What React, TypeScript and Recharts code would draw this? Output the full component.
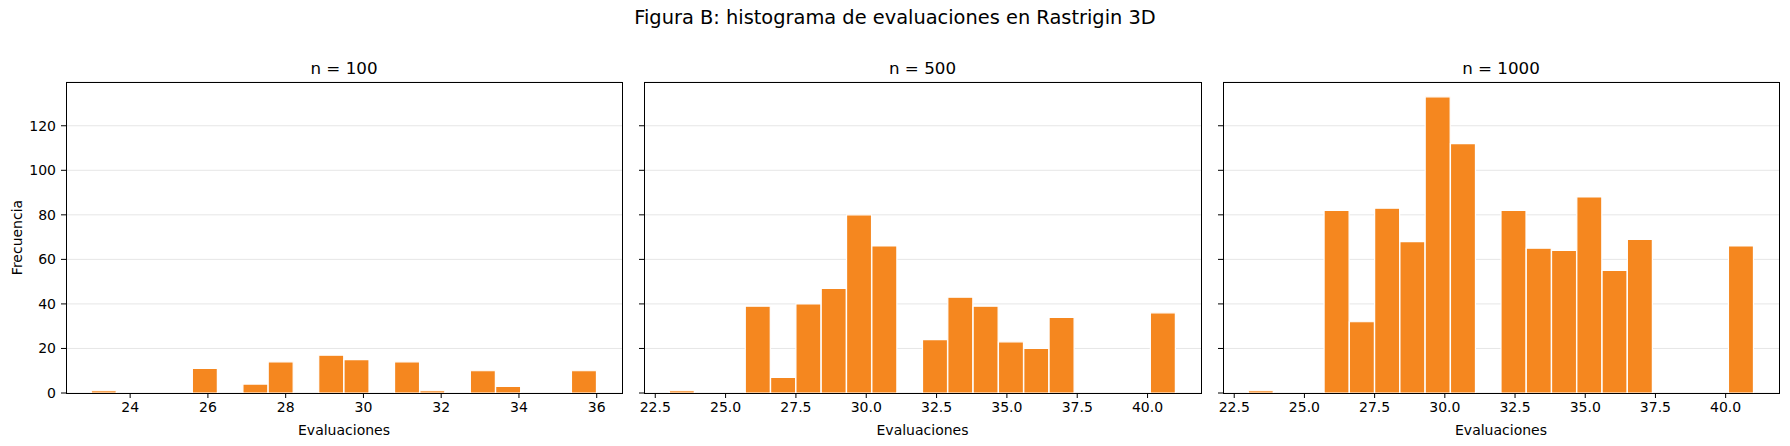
import React from 'react';
import { BarChart, Bar, XAxis, YAxis, CartesianGrid, Label } from 'recharts';

// bin edges (matplotlib hist, 20 bins) and counts per panel
const edgesN100 = [23, 23.65, 24.3, 24.95, 25.6, 26.25, 26.9, 27.55, 28.2, 28.85, 29.5, 30.15, 30.8, 31.45, 32.1, 32.75, 33.4, 34.05, 34.7, 35.35, 36];
const countsN100 = [1, 0, 0, 0, 11, 0, 4, 14, 0, 17, 15, 0, 14, 1, 0, 10, 3, 0, 0, 10];

const edgesWide = [23, 23.9, 24.8, 25.7, 26.6, 27.5, 28.4, 29.3, 30.2, 31.1, 32, 32.9, 33.8, 34.7, 35.6, 36.5, 37.4, 38.3, 39.2, 40.1, 41];
const countsN500 = [1, 0, 0, 39, 7, 40, 47, 80, 66, 0, 24, 43, 39, 23, 20, 34, 0, 0, 0, 36];
const countsN1000 = [1, 0, 0, 82, 32, 83, 68, 133, 112, 0, 82, 65, 64, 88, 55, 69, 0, 0, 0, 66];

const xTicksN100 = [24, 26, 28, 30, 32, 34, 36];
const xTicksWide = [22.5, 25, 27.5, 30, 32.5, 35, 37.5, 40];
const yTicks = [0, 20, 40, 60, 80, 100, 120];

const FONT = '"DejaVu Sans", sans-serif';
const BAR_COLOR = '#f5871f';
const PLOT_TOP = 82;
const PLOT_BOTTOM = 393;
const Y_AXIS_W = 60;
const X_AXIS_H = 20;

const buildRows = (edges: number[], counts: number[]) =>
  counts.map((c, i) => ({ center: (edges[i] + edges[i + 1]) / 2, count: c }));

interface PanelProps {
  title: string;
  left: number;
  plotWidth: number;
  edges: number[];
  counts: number[];
  xTicks: number[];
  xDomain: [number, number];
  decimals: number;
  first?: boolean;
}

const Panel: React.FC<PanelProps> = ({ title, left, plotWidth, edges, counts, xTicks, xDomain, decimals, first }) => {
  const rows = buildRows(edges, counts);
  const chartLeft = left - Y_AXIS_W;
  const tickStyle = { fill: '#000', fontSize: 14, fontFamily: FONT };
  return (
    <>
      <div
        style={{
          position: 'absolute', left, top: PLOT_TOP - 24, width: plotWidth, textAlign: 'center',
          fontFamily: FONT, fontSize: 16.7, lineHeight: '20px', color: '#000',
        }}
      >
        {title}
      </div>
      <div style={{ position: 'absolute', left: chartLeft, top: 0 }}>
        <BarChart
          width={Y_AXIS_W + plotWidth + 5}
          height={446}
          data={rows}
          margin={{ top: PLOT_TOP, right: 5, bottom: 446 - PLOT_BOTTOM - X_AXIS_H, left: 0 }}
          barCategoryGap={0}
          barGap={0}
        >
          <CartesianGrid vertical={false} stroke="#e6e6e6" strokeWidth={1} />
          <XAxis
            dataKey="center"
            type="number"
            domain={xDomain}
            allowDataOverflow
            ticks={xTicks}
            interval={0}
            height={X_AXIS_H}
            tickSize={5}
            tickMargin={4}
            axisLine={false}
            tickLine={{ stroke: '#000' }}
            tick={tickStyle}
            tickFormatter={(v: number) => v.toFixed(decimals)}
          >
            <Label
              content={(p: any) => {
                const vb = p.viewBox || { x: left - chartLeft, width: plotWidth };
                return (
                  <text
                    x={vb.x + vb.width / 2}
                    y={430}
                    textAnchor="middle"
                    dominantBaseline="central"
                    fontFamily={FONT}
                    fontSize={14}
                    fill="#000"
                  >
                    Evaluaciones
                  </text>
                );
              }}
            />
          </XAxis>
          <YAxis
            type="number"
            domain={[0, 139.65]}
            allowDataOverflow
            ticks={yTicks}
            interval={0}
            width={Y_AXIS_W}
            tickSize={5}
            tickMargin={5}
            axisLine={false}
            tickLine={{ stroke: '#000' }}
            tick={tickStyle}
            tickFormatter={(v: number) => (first ? String(v) : '')}
          >
            {first && (
              <Label
                content={() => (
                  <text
                    x={17 - chartLeft}
                    y={(PLOT_TOP + PLOT_BOTTOM) / 2}
                    transform={`rotate(-90 ${17 - chartLeft} ${(PLOT_TOP + PLOT_BOTTOM) / 2})`}
                    textAnchor="middle"
                    dominantBaseline="central"
                    fontFamily={FONT}
                    fontSize={14}
                    fill="#000"
                  >
                    Frecuencia
                  </text>
                )}
              />
            )}
          </YAxis>
          <Bar dataKey="count" fill={BAR_COLOR} stroke="#ffffff" strokeWidth={1.2} isAnimationActive={false} />
        </BarChart>
      </div>
      <div
        style={{
          position: 'absolute', left: left - 0.5, top: PLOT_TOP - 0.5, width: plotWidth + 1,
          height: PLOT_BOTTOM - PLOT_TOP + 1, border: '1.1px solid #000', boxSizing: 'border-box',
          pointerEvents: 'none',
        }}
      />
    </>
  );
};

export default function App() {
  return (
    <div style={{ position: 'absolute', left: 0, top: 0, width: 1790, height: 446, background: '#fff', overflow: 'hidden' }}>
      <div
        style={{
          position: 'absolute', left: 0, top: 6, width: 1790, textAlign: 'center',
          fontFamily: FONT, fontSize: 19.4, lineHeight: '24px', color: '#000',
        }}
      >
        Figura B: histograma de evaluaciones en Rastrigin 3D
      </div>
      <Panel title="n = 100" left={66} plotWidth={556} edges={edgesN100} counts={countsN100}
        xTicks={xTicksN100} xDomain={[22.35, 36.65]} decimals={0} first />
      <Panel title="n = 500" left={644} plotWidth={557} edges={edgesWide} counts={countsN500}
        xTicks={xTicksWide} xDomain={[22.1, 41.9]} decimals={1} />
      <Panel title="n = 1000" left={1223} plotWidth={556} edges={edgesWide} counts={countsN1000}
        xTicks={xTicksWide} xDomain={[22.1, 41.9]} decimals={1} />
    </div>
  );
}
